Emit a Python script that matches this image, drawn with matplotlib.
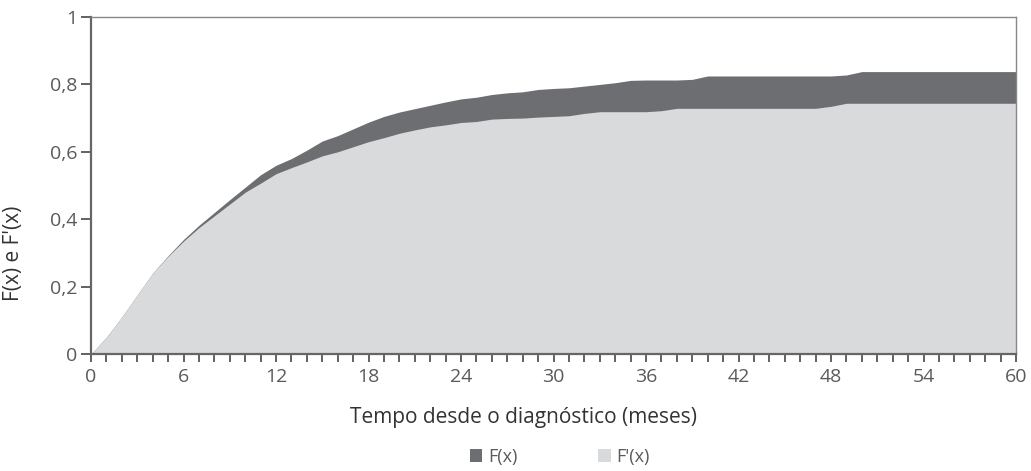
import numpy as np
import matplotlib
matplotlib.use("Agg")
from matplotlib import pyplot as plt
from matplotlib.patches import Patch
from matplotlib.ticker import MultipleLocator, FuncFormatter

# months since diagnosis
meses = list(range(0, 61))

# F(x) - upper (dark) curve
F = [0.0, 0.05, 0.11, 0.175, 0.24, 0.292, 0.34, 0.382, 0.42, 0.458,
     0.495, 0.532, 0.56, 0.58, 0.605, 0.632, 0.648, 0.668, 0.688, 0.705,
     0.718, 0.728, 0.738, 0.748, 0.757, 0.762, 0.77, 0.775, 0.778, 0.785,
     0.788, 0.79, 0.795, 0.8, 0.805, 0.812, 0.813, 0.813, 0.813, 0.815,
     0.825, 0.825, 0.825, 0.825, 0.825, 0.825, 0.825, 0.825, 0.825, 0.828,
     0.838, 0.838, 0.838, 0.838, 0.838, 0.838, 0.838, 0.838, 0.838, 0.838,
     0.838]

# F'(x) - lower (light) curve
F_linha = [0.0, 0.05, 0.11, 0.175, 0.24, 0.29, 0.335, 0.375, 0.41, 0.445,
           0.48, 0.507, 0.535, 0.553, 0.57, 0.588, 0.6, 0.615, 0.63, 0.642,
           0.655, 0.665, 0.674, 0.68, 0.687, 0.69, 0.697, 0.699, 0.7, 0.703,
           0.705, 0.707, 0.714, 0.719, 0.719, 0.719, 0.719, 0.722, 0.729, 0.729,
           0.729, 0.729, 0.729, 0.729, 0.729, 0.729, 0.729, 0.729, 0.735, 0.744,
           0.744, 0.744, 0.744, 0.744, 0.744, 0.744, 0.744, 0.744, 0.744, 0.744,
           0.744]

escuro = "#6d6e71"
claro = "#d9dadb"
texto = "#5a5a5a"
plt.rcParams['font.family'] = ['Open Sans', 'DejaVu Sans']

fig = plt.figure(figsize=(10.31, 4.71), dpi=100)
ax = fig.add_axes([0.0883, 0.2484, 0.8972, 0.7155])

ax.fill_between(meses, 0, F, color=escuro, linewidth=0)
ax.fill_between(meses, 0, F_linha, color=claro, linewidth=0)

ax.set_xlim(0, 60)
ax.set_ylim(0, 1)
ax.xaxis.set_major_locator(MultipleLocator(6))
ax.xaxis.set_minor_locator(MultipleLocator(1))
ax.yaxis.set_major_locator(MultipleLocator(0.2))
ax.yaxis.set_major_formatter(FuncFormatter(lambda v, p: ("%g" % round(v, 1)).replace(".", ",")))

for s in ["left", "bottom"]:
    ax.spines[s].set_color("#666666")
    ax.spines[s].set_linewidth(1.6)
for s in ["top", "right"]:
    ax.spines[s].set_color("#888888")
    ax.spines[s].set_linewidth(1.0)

ax.tick_params(axis="x", which="both", direction="out", length=6, width=1.3,
               color="#555555", labelsize=14, labelcolor=texto, pad=4)
ax.tick_params(axis="y", direction="out", length=7, width=1.3, color="#555555",
               labelsize=14, labelcolor=texto, pad=3)

ax.set_xlabel("Tempo desde o diagnóstico (meses)", fontsize=15, color="#333333")
ax.xaxis.set_label_coords(0.468, -0.158)
ax.set_ylabel("F(x) e F'(x)", fontsize=15, color="#333333")
ax.yaxis.set_label_coords(-0.072, 0.30)

handles = [Patch(facecolor=escuro, label="F(x)"), Patch(facecolor=claro, label="F'(x)")]
leg = fig.legend(handles=handles, loc="center", bbox_to_anchor=(0.543, 0.03), ncol=2,
                 frameon=False, fontsize=13, handlelength=0.7, handleheight=0.7,
                 handletextpad=0.3, columnspacing=4.5)
for t in leg.get_texts():
    t.set_color(texto)

fig.savefig("out.png", dpi=100)
